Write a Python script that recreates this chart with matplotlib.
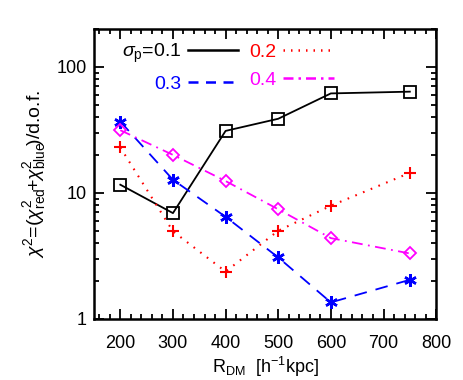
import matplotlib
matplotlib.use('Agg')
import matplotlib.pyplot as plt
from matplotlib.lines import Line2D
from matplotlib.ticker import FixedLocator, MultipleLocator, NullFormatter
import numpy as np

plt.rcParams['font.family'] = ['Liberation Sans', 'DejaVu Sans']
plt.rcParams['font.size'] = 13
plt.rcParams['mathtext.fontset'] = 'custom'
plt.rcParams['mathtext.rm'] = 'Liberation Sans'
plt.rcParams['mathtext.it'] = 'Liberation Sans:italic'
plt.rcParams['mathtext.bf'] = 'Liberation Sans:bold'

# R_DM values [h^-1 kpc]
r_dm = [200, 300, 400, 500, 600, 750]

# chi^2 per d.o.f. for each sigma_p
chi2_01 = [11.6, 6.9, 31.0, 38.7, 61.5, 63.5]
chi2_02 = [22.9, 4.95, 2.37, 5.0, 7.9, 14.4]
chi2_03 = [36.8, 12.7, 6.45, 3.07, 1.35, 2.04]
chi2_04 = [31.4, 20.0, 12.4, 7.4, 4.37, 3.3]

labels = [r'$\sigma_{\rm p}$=0.1', '0.2', '0.3', '0.4']

fig = plt.figure(figsize=(4.63, 3.8), dpi=100)
ax = fig.add_axes([0.203, 0.161, 0.739, 0.763])

ax.plot(r_dm, chi2_01, color='black', lw=1.3, ls='-',
        marker='s', ms=8, mfc='none', mew=1.3)
ax.plot(r_dm, chi2_02, color='red', lw=1.5, ls=(0, (0.8, 3.2)),
        marker='+', ms=9, mew=1.5)
ax.plot(r_dm, chi2_03, color='blue', lw=1.3, ls=(0, (7, 5)),
        marker=(6, 2, 0), ms=9, mew=1.8)
ax.plot(r_dm, chi2_04, color='magenta', lw=1.3, ls=(0, (6, 3, 1, 3)),
        marker='D', ms=6, mfc='none', mew=1.3)

ax.set_yscale('log')
ax.set_xlim(150, 800)
ax.set_ylim(1, 200)

ax.xaxis.set_major_locator(MultipleLocator(100))
ax.xaxis.set_minor_locator(MultipleLocator(20))
ax.yaxis.set_major_locator(FixedLocator([1, 10, 100]))
ax.set_yticklabels(['1', '10', '100'])
ax.yaxis.set_minor_locator(FixedLocator(
    [m * d for d in (1, 10, 100) for m in range(2, 10)]))
ax.yaxis.set_minor_formatter(NullFormatter())

ax.tick_params(which='both', direction='in', top=True, right=True, width=1.3)
ax.tick_params(which='major', length=7)
ax.tick_params(axis='x', which='major', pad=12)
ax.tick_params(axis='y', which='major', pad=5)
ax.tick_params(which='minor', length=3.5)
for sp in ax.spines.values():
    sp.set_linewidth(1.8)

ax.set_xlabel(r'R$_{\rm DM}$  [h$^{-1}$kpc]', labelpad=2)
ax.set_ylabel(r'$\chi^2$=($\chi^{2}_{\rm red}\!$+$\chi^{2}_{\rm blue}\!$)/d.o.f.',
              fontsize=14, labelpad=6)

# legend: label left of line, two columns
handles = [
    Line2D([], [], color='black', lw=1.8, ls='-'),
    Line2D([], [], color='blue', lw=1.8, ls=(0, (4, 3))),
    Line2D([], [], color='red', lw=1.8, ls=(0, (0.6, 2.4))),
    Line2D([], [], color='magenta', lw=1.8, ls=(0, (4, 2, 1, 2))),
]
leg = ax.legend(handles, [labels[0], labels[2], labels[1], labels[3]],
                ncol=2, markerfirst=False, frameon=False,
                loc='upper left', bbox_to_anchor=(0.03, 1.015),
                handlelength=2.6, handletextpad=0.35, columnspacing=0.55,
                labelspacing=0.5, fontsize=14,
                labelcolor=['black', 'blue', 'red', 'magenta'])

fig.savefig('out.png', dpi=100)
